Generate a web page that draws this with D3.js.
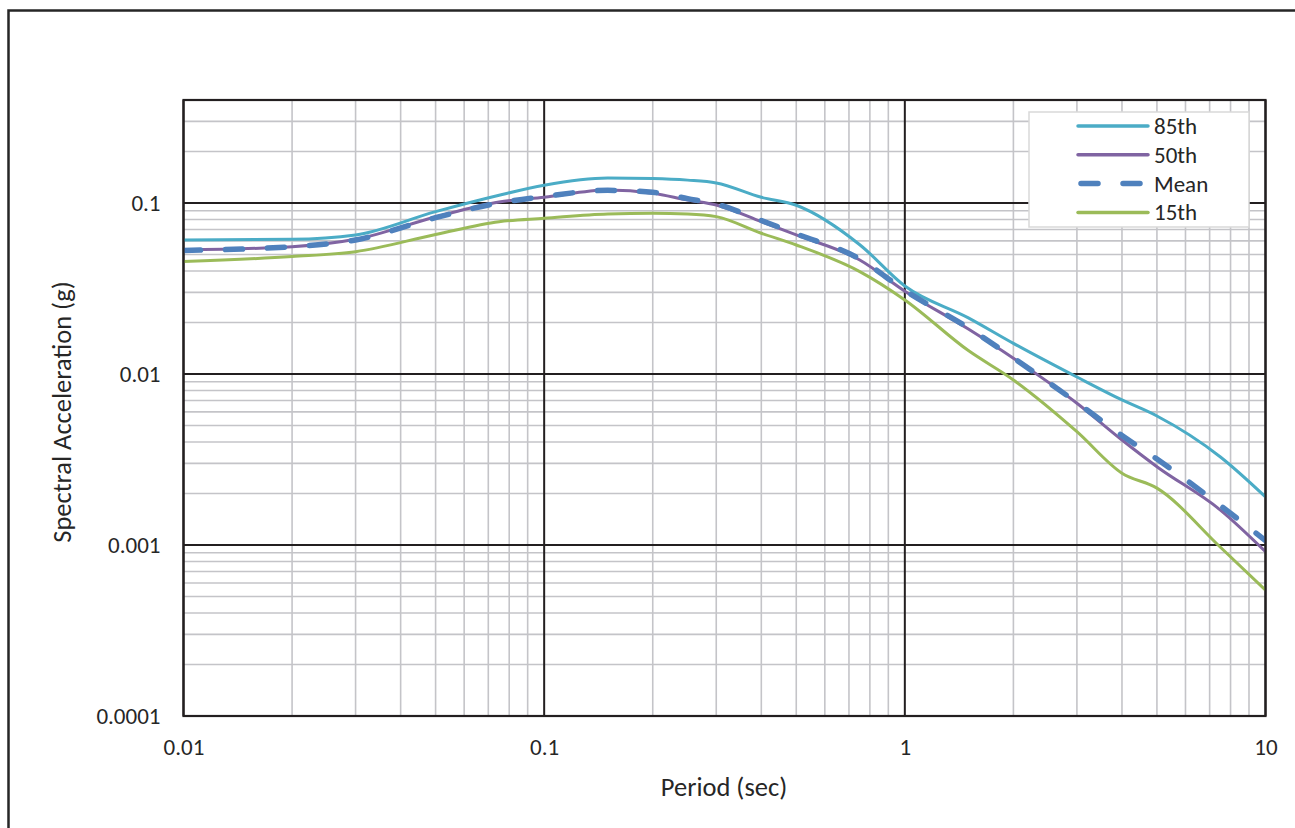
<!DOCTYPE html>
<html>
<head>
<meta charset="utf-8">
<script src="https://cdn.jsdelivr.net/npm/d3@7"></script>
<style>
    body { margin: 0; background: #fff; }
    svg { display: block; }
    text { font-family: Carlito, Calibri, 'Open Sans', sans-serif; fill: #262626; }
</style>
</head>
<body>
<svg id="chart" width="1295" height="828"></svg>
<script>
// periods (sec) and spectral accelerations (g)
const periods = [0.01, 0.02, 0.03, 0.05, 0.075, 0.1, 0.15, 0.2, 0.25, 0.3, 0.4, 0.5, 0.75, 1, 1.5, 2, 3, 4, 5, 7.5, 10];
const sa85 = [0.0608, 0.0613, 0.065, 0.089, 0.111, 0.127, 0.140, 0.139, 0.136, 0.131, 0.108, 0.097, 0.057, 0.0327, 0.0213, 0.0151, 0.0096, 0.00705, 0.00568, 0.00327, 0.00191];
const sa50 = [0.0531, 0.0555, 0.0613, 0.0828, 0.1013, 0.108, 0.119, 0.114, 0.104, 0.0973, 0.0777, 0.065, 0.0464, 0.0305, 0.0183, 0.01235, 0.00674, 0.00411, 0.00287, 0.0016, 0.000914];
const saMean = [0.0528, 0.0555, 0.0608, 0.082, 0.100, 0.109, 0.1185, 0.1155, 0.106, 0.0985, 0.079, 0.066, 0.047, 0.0308, 0.0186, 0.0124, 0.0068, 0.00437, 0.00318, 0.0017, 0.00106];
const sa15 = [0.0454, 0.0486, 0.0519, 0.0654, 0.0777, 0.0813, 0.0862, 0.087, 0.0862, 0.0832, 0.0665, 0.0568, 0.0397, 0.0271, 0.0137, 0.00923, 0.0046, 0.00263, 0.00215, 0.00097, 0.000545];

const seriesNames = ['85th', '50th', 'Mean', '15th'];
const xTicks = [0.01, 0.1, 1, 10];
const yTicks = [0.0001, 0.001, 0.01, 0.1];

const LABEL_SIZE = '23px';
const TITLE_SIZE = '26.5px';

function translate(x, y) {
    return `translate(${x}, ${y})`;
}

const series = [
    { name: seriesNames[0], values: sa85, color: '#4bacc6', width: 3, dash: null },
    { name: seriesNames[1], values: sa50, color: '#8064a2', width: 3, dash: null },
    { name: seriesNames[2], values: saMean, color: '#4f81bd', width: 5.5, dash: '17,25' },
    { name: seriesNames[3], values: sa15, color: '#9bbb59', width: 3, dash: null },
];

const svg = d3.select('#chart');
const plot = { left: 183.5, top: 100, right: 1265.5, bottom: 716 };

// outer chart frame (runs off the right and bottom edges)
svg.append('rect')
    .attr('x', 8.5).attr('y', 10.5)
    .attr('width', 1400).attr('height', 900)
    .style('fill', 'none').style('stroke', '#262626').style('stroke-width', 2.5);

const x = d3.scaleLog().domain([0.01, 10]).range([plot.left, plot.right]);
const y = d3.scaleLog().domain([0.0001, 0.4]).range([plot.bottom, plot.top]);

// minor gridlines: 2..9 within every decade
const minor = (domain, lo, hi) => {
    const out = [];
    for (let d = lo; d < hi * 1.0001; d *= 10) {
        for (let k = 2; k <= 9; k++) {
            const v = k * d;
            if (v < domain[1] * 1.0001) out.push(v);
        }
    }
    return out;
};
const xMinor = minor(x.domain(), 0.01, 1);
const yMinor = minor(y.domain(), 0.0001, 0.1);

const grid = svg.append('g');
grid.selectAll('.vminor').data(xMinor).enter().append('line')
    .attr('x1', d => x(d)).attr('x2', d => x(d))
    .attr('y1', plot.top).attr('y2', plot.bottom)
    .style('stroke', '#c4c4c8').style('stroke-width', 1.6);
grid.selectAll('.hminor').data(yMinor).enter().append('line')
    .attr('y1', d => y(d)).attr('y2', d => y(d))
    .attr('x1', plot.left).attr('x2', plot.right)
    .style('stroke', '#c4c4c8').style('stroke-width', 1.6);
grid.selectAll('.vmajor').data(xTicks).enter().append('line')
    .attr('x1', d => x(d)).attr('x2', d => x(d))
    .attr('y1', plot.top).attr('y2', plot.bottom)
    .style('stroke', '#231f20').style('stroke-width', 2);
grid.selectAll('.hmajor').data(yTicks).enter().append('line')
    .attr('y1', d => y(d)).attr('y2', d => y(d))
    .attr('x1', plot.left).attr('x2', plot.right)
    .style('stroke', '#231f20').style('stroke-width', 2);

// axes (labels only)
const fmt = d => d3.format('~g')(d);
const xAxis = svg.append('g').attr('transform', translate(0, plot.bottom))
    .call(d3.axisBottom(x).tickValues(xTicks).tickSize(0).tickPadding(23).tickFormat(fmt));
const yAxis = svg.append('g').attr('transform', translate(plot.left, 0))
    .call(d3.axisLeft(y).tickValues(yTicks).tickSize(0).tickPadding(23).tickFormat(d => d.toFixed(Math.max(0, -Math.round(Math.log10(d))))));
[xAxis, yAxis].forEach(a => {
    a.select('.domain').remove();
    a.selectAll('text')
        .style('font-family', "Carlito, Calibri, 'Open Sans', sans-serif")
        .style('font-size', LABEL_SIZE)
        .style('fill', '#262626');
});

// curves
const line = d3.line()
    .x((d, i) => x(periods[i]))
    .y(d => y(d))
    .curve(d3.curveMonotoneX);

svg.append('defs').append('clipPath').attr('id', 'clip')
    .append('rect')
    .attr('x', plot.left).attr('y', plot.top)
    .attr('width', plot.right - plot.left).attr('height', plot.bottom - plot.top);

svg.append('g').attr('clip-path', 'url(#clip)')
    .selectAll('path').data(series).enter().append('path')
    .attr('d', d => line(d.values))
    .style('fill', 'none')
    .style('stroke', d => d.color)
    .style('stroke-width', d => d.width)
    .style('stroke-dasharray', d => d.dash)
    .style('stroke-linecap', d => d.dash ? 'round' : 'butt')
    .style('stroke-linejoin', 'round');

// plot border
svg.append('rect')
    .attr('x', plot.left).attr('y', plot.top)
    .attr('width', plot.right - plot.left).attr('height', plot.bottom - plot.top)
    .style('fill', 'none').style('stroke', '#231f20').style('stroke-width', 2.2);

// axis titles
svg.append('text')
    .attr('transform', translate(724, 787))
    .attr('dy', '0.35em')
    .style('text-anchor', 'middle')
    .style('font-size', TITLE_SIZE)
    .text('Period (sec)');
svg.append('text')
    .attr('transform', translate(62, 412) + ' rotate(-90)')
    .attr('dy', '0.35em')
    .style('text-anchor', 'middle')
    .style('font-size', TITLE_SIZE)
    .text('Spectral Acceleration (g)');

// legend
const legend = svg.append('g').attr('transform', translate(1029, 112));
legend.append('rect')
    .attr('width', 220).attr('height', 115)
    .style('fill', '#fff').style('stroke', '#d9d9d9').style('stroke-width', 1.5);
const items = legend.selectAll('g').data(series).enter().append('g')
    .attr('transform', (d, i) => translate(0, 14 + 28.8 * i));
items.append('line')
    .attr('x1', d => d.dash ? 52 : 49).attr('x2', d => d.dash ? 112 : 119)
    .style('stroke', d => d.color)
    .style('stroke-width', d => d.dash ? 5.5 : 3.5)
    .style('stroke-dasharray', d => d.dash)
    .style('stroke-linecap', 'round');
items.append('text')
    .attr('x', 125)
    .attr('dy', '0.35em')
    .style('font-size', LABEL_SIZE)
    .text(d => d.name);
</script>
</body>
</html>
